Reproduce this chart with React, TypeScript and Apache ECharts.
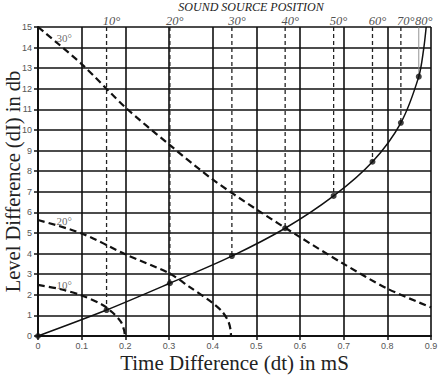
import React, { useEffect, useRef } from "react";
import * as echarts from "echarts";

// Sound source positions and where they sit on the dt/dl curve
const positionLabels = ["10°", "20°", "30°", "40°", "50°", "60°", "70°", "80°"];
const positionDt = [0.157, 0.302, 0.444, 0.566, 0.677, 0.766, 0.831, 0.872];
const positionDl = [1.26, 2.56, 3.88, 5.23, 6.8, 8.46, 10.35, 12.59];

// main solid curve (origin, the marked positions, then the top end)
const curveDt = [0, ...positionDt, 0.883, 0.889];
const curveDl = [0, ...positionDl, 13.9, 15];

// dashed iso-curves
const arc10Dt = [0, 0.05, 0.1, 0.147, 0.17, 0.19, 0.197, 0.199];
const arc10Dl = [2.48, 2.28, 1.97, 1.52, 1.15, 0.69, 0.29, 0];
const arc20Dt = [0, 0.1, 0.2, 0.3, 0.346, 0.4, 0.422, 0.436, 0.441, 0.442];
const arc20Dl = [5.63, 4.98, 3.97, 3.05, 2.4, 1.6, 1.18, 0.7, 0.3, 0];
const arc30Dt = [0, 0.1, 0.2, 0.3, 0.4, 0.5, 0.6, 0.7, 0.8, 0.9];
const arc30Dl = [15, 13.2, 11.1, 9.3, 7.6, 6.15, 4.8, 3.5, 2.3, 1.39];

const arcLabels = ["30°", "20°", "10°"];
const arcLabelDt = [0.06, 0.06, 0.06];
const arcLabelDl = [14.45, 5.58, 2.48];

const xMin = 0, xMax = 0.9, xStep = 0.1;
const yMin = 0, yMax = 15, yStep = 1;

const zip = (a: number[], b: number[]) => a.map((v, i) => [v, b[i]]);

export default function App() {
  const ref = useRef<HTMLDivElement>(null);
  useEffect(() => {
    if (!ref.current) return;
    const chart = echarts.init(ref.current, null, { renderer: "svg" });
    const serif = "Liberation Serif";
    const sans = "Liberation Sans";
    const dashedCurve = (name: string, d: number[], l: number[]) => ({
      type: "line",
      name,
      data: zip(d, l),
      smooth: 0.3,
      symbol: "none",
      lineStyle: { color: "#111", width: 2.2, type: [7, 4] },
      z: 3,
    });
    const verticals = positionDt.map((x, i) => ({
      type: "line",
      data: [
        [x, yMax],
        [x, positionDl[i]],
      ],
      symbol: "none",
      lineStyle:
        i === positionDt.length - 1
          ? { color: "#888", width: 0.9, type: "solid" }
          : { color: "#222", width: 1.3, type: [4, 3] },
      z: 2,
    }));
    chart.setOption({
      animation: false,
      grid: { left: 38, right: 9, top: 27, bottom: 41, containLabel: false, outerBoundsMode: "none" },
      xAxis: {
        type: "value",
        min: xMin,
        max: xMax,
        interval: xStep,
        name: "Time Difference (dt) in mS",
        nameLocation: "middle",
        nameGap: 16.5,
        nameMoveOverlap: false,
        nameTextStyle: { fontFamily: serif, fontSize: 21, color: "#222", lineHeight: 21 },
        axisLine: { show: true, onZero: false, lineStyle: { color: "#111", width: 2 } },
        axisTick: { show: true, length: 4, lineStyle: { color: "#111", width: 1.5 } },
        axisLabel: {
          fontFamily: sans,
          fontSize: 9,
          color: "#555",
          margin: 5,
          formatter: (v: number) => String(Math.round(v * 10) / 10),
        },
        splitLine: { show: true, lineStyle: { color: "#111", width: 1.6 } },
      },
      yAxis: {
        type: "value",
        min: yMin,
        max: yMax,
        interval: yStep,
        name: "Level Difference (dI) in db",
        nameLocation: "middle",
        nameGap: 15,
        nameMoveOverlap: false,
        nameTextStyle: { fontFamily: serif, fontSize: 20.5, color: "#222" },
        axisLine: { show: true, onZero: false, lineStyle: { color: "#111", width: 2 } },
        axisTick: { show: true, length: 4, lineStyle: { color: "#111", width: 1.5 } },
        axisLabel: { fontFamily: sans, fontSize: 9, color: "#555", margin: 6 },
        splitLine: { show: true, lineStyle: { color: "#111", width: 1.6 } },
      },
      graphic: [
        {
          type: "text",
          x: 251,
          y: 7,
          style: {
            text: "SOUND SOURCE POSITION",
            font: "italic 12px 'Liberation Serif'",
            fill: "#222",
            textAlign: "center",
            textVerticalAlign: "middle",
          },
        },
      ],
      series: [
        ...verticals,
        dashedCurve("30", arc30Dt, arc30Dl),
        dashedCurve("20", arc20Dt, arc20Dl),
        dashedCurve("10", arc10Dt, arc10Dl),
        {
          type: "line",
          data: zip(curveDt, curveDl),
          smooth: 0.3,
          symbol: "none",
          lineStyle: { color: "#111", width: 1.5 },
          z: 4,
        },
        {
          type: "scatter",
          data: zip([0, ...positionDt], [0, ...positionDl]),
          symbol: "circle",
          symbolSize: 6,
          itemStyle: { color: "#111" },
          z: 5,
        },
        {
          type: "scatter",
          data: positionDt.map((x, i) => ({
            value: [x, yMax],
            label: { formatter: positionLabels[i] },
          })),
          symbolSize: 1,
          itemStyle: { color: "rgba(0,0,0,0)" },
          label: {
            show: true,
            position: "top",
            distance: 0,
            offset: [5, 0],
            fontFamily: serif,
            fontStyle: "italic",
            fontSize: 12.5,
            lineHeight: 12,
            color: "#222",
          },
          z: 6,
        },
        {
          type: "scatter",
          data: arcLabelDt.map((x, i) => ({
            value: [x, arcLabelDl[i]],
            label: { formatter: arcLabels[i] },
          })),
          symbolSize: 1,
          itemStyle: { color: "rgba(0,0,0,0)" },
          label: {
            show: true,
            position: "inside",
            fontFamily: serif,
            fontSize: 11,
            color: "#444",
          },
          z: 6,
        },
      ],
    });
    return () => chart.dispose();
  }, []);
  return <div ref={ref} style={{ width: 440, height: 377, position: "absolute", left: 0, top: 0, background: "#fff" }} />;
}
